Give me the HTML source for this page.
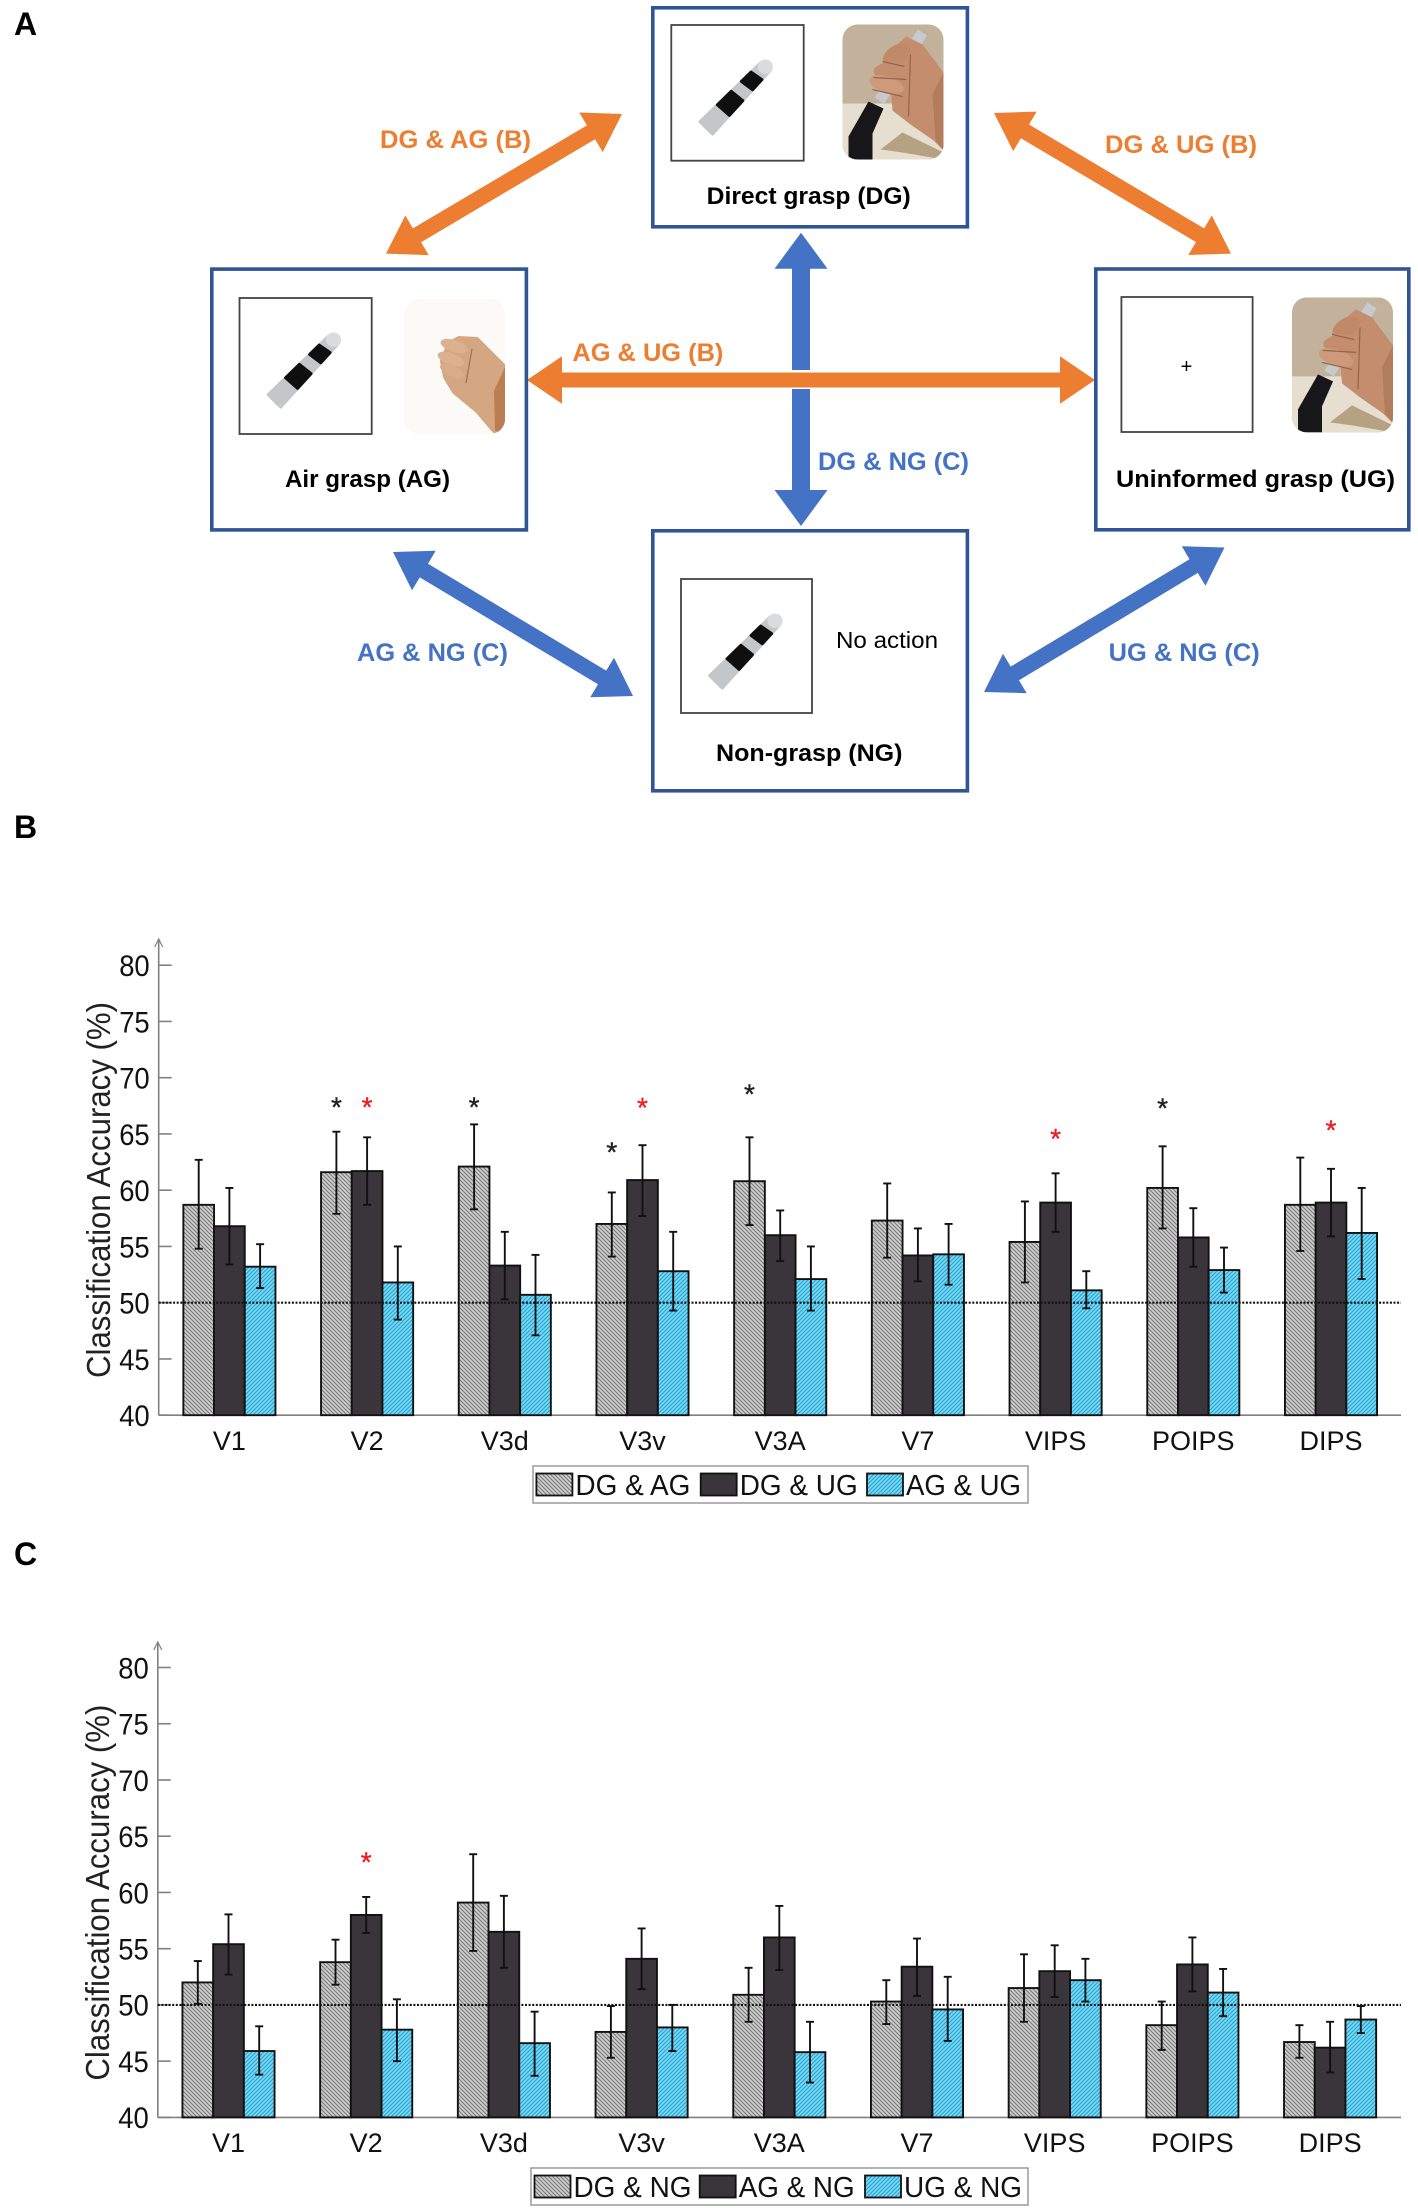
<!DOCTYPE html>
<html lang="en">
<head>
<meta charset="utf-8">
<title>Classification accuracy figure</title>
<style>
html,body{margin:0;padding:0;background:#fff;}
svg{display:block;}
text{font-family:"Liberation Sans",Arial,sans-serif;}
</style>
</head>
<body>
<svg id="figure" xmlns="http://www.w3.org/2000/svg" width="1418" height="2212" viewBox="0 0 1418 2212">
<defs>
  <pattern id="hatch-gray" patternUnits="userSpaceOnUse" width="4" height="4">
    <rect width="4" height="4" fill="#d2d2d2"/>
    <path d="M-1,-1 L5,5 M-1,3 L1,5 M3,-1 L5,1" stroke="#7e7e7e" stroke-width="1.2"/>
  </pattern>
  <pattern id="hatch-cyan" patternUnits="userSpaceOnUse" width="4" height="4">
    <rect width="4" height="4" fill="#7ddaf6"/>
    <path d="M-1,5 L5,-1 M-1,1 L1,-1 M3,5 L5,3" stroke="#2ba6d2" stroke-width="1.2"/>
  </pattern>
  <g id="grip-tube">
    <polygon points="28.7,96.7 88.7,38.3 99.3,45 41.3,109 36,104" fill="#c3c7c9" stroke="#c3c7c9" stroke-width="3" stroke-linejoin="round"/>
    <ellipse cx="94" cy="41.7" rx="7.6" ry="7.2" fill="#d9dcdd"/>
    <polygon points="46.1,79.8 59.9,66.3 71.5,75.7 58.1,90.4" fill="#0f0f10" stroke="#0f0f10" stroke-width="3" stroke-linejoin="round"/>
    <polygon points="70.1,56.4 79.7,47.1 90.6,54.6 81.3,64.8" fill="#0f0f10" stroke="#0f0f10" stroke-width="3" stroke-linejoin="round"/>
  </g>
  <clipPath id="photo-clip"><rect x="0" y="0" width="101" height="135" rx="15" ry="15"/></clipPath>
  <g id="grasp-photo" clip-path="url(#photo-clip)">
    <rect width="101" height="135" fill="#c2b29c"/>
    <rect y="79" width="101" height="56" fill="#e6dece"/>
    <path d="M38,125 L60,108 L101,128 L101,135 L60,128 Z" fill="#b5a283"/>
    <line x1="80" y1="8" x2="37" y2="76" stroke="#c6cacc" stroke-width="11"/>
    <path d="M26,77 L41,84 L30,109 L30,135 L6,135 L6,112 Z" fill="#17171a"/>
    <path d="M52,22 L64,12 L80,20 L101,48 L101,126 L91,116 L68,100 L50,86 L48,62 L44,36 Z" fill="#c48e6e"/>
    <ellipse cx="54" cy="30" rx="15" ry="9" transform="rotate(-32 54 30)" fill="#c08a68"/>
    <ellipse cx="48" cy="45" rx="17" ry="8" transform="rotate(-8 48 45)" fill="#c48e6e"/>
    <ellipse cx="44" cy="60" rx="18" ry="8" transform="rotate(18 44 60)" fill="#cd9a7c"/>
    <path d="M40,37 L62,42 M31,53 L64,55 M30,65 L60,72 M68,30 L66,92" stroke="#96624a" stroke-width="1.2" fill="none"/>
    <path d="M90,70 L101,48 L101,126 L93,116 Z" fill="#b27d5c"/>
  </g>
  <g id="air-photo" clip-path="url(#photo-clip)">
    <rect width="101" height="135" fill="#fbfaf7"/>
    <path d="M38,62 L45,44 L55,39 L73,40 L92,59 L101,68 L101,134 L90,132 L73,112 L50,93 L41,78 Z" fill="#d4a682" stroke="#d4a682" stroke-width="4" stroke-linejoin="round"/>
    <ellipse cx="50" cy="47" rx="14" ry="6" transform="rotate(18 50 47)" fill="#dcb190"/>
    <ellipse cx="47" cy="60" rx="14" ry="6" transform="rotate(20 47 60)" fill="#dcb190"/>
    <ellipse cx="48" cy="72" rx="13" ry="5.5" transform="rotate(25 48 72)" fill="#d9ac8c"/>
    <path d="M68,50 L62,84" stroke="#a17453" stroke-width="1.3" fill="none"/>
    <path d="M90,92 L101,68 L101,134 L91,132 Z" fill="#b97f52"/>
  </g>
</defs>
<rect width="1418" height="2212" fill="#fff"/>

<g id="panel-a">
  <text x="14" y="35" font-size="32" font-weight="bold">A</text>

  <g id="arrow-layer"></g>

  <g>
    <rect x="652.8" y="7.8" width="314.6" height="219" fill="#fff" stroke="#2f5597" stroke-width="3.6"/>
    <rect x="671.3" y="25" width="132.4" height="135.7" fill="#fff" stroke="#444" stroke-width="1.8"/>
    <use href="#grip-tube" transform="translate(671.3,25)"/>
    <use href="#grasp-photo" transform="translate(842.5,24.5)"/>
    <text x="706.7" y="204" font-size="24" font-weight="bold" textLength="204" lengthAdjust="spacingAndGlyphs">Direct grasp (DG)</text>
  </g>

  <g>
    <rect x="211.8" y="269.1" width="314.6" height="260.8" fill="#fff" stroke="#2f5597" stroke-width="3.6"/>
    <rect x="239.5" y="298" width="132.2" height="136" fill="#fff" stroke="#444" stroke-width="1.8"/>
    <use href="#grip-tube" transform="translate(239.5,298)"/>
    <use href="#air-photo" transform="translate(404,299)"/>
    <text x="285" y="487" font-size="24" font-weight="bold" textLength="165" lengthAdjust="spacingAndGlyphs">Air grasp (AG)</text>
  </g>

  <g>
    <rect x="1095.8" y="269" width="313" height="260.8" fill="#fff" stroke="#2f5597" stroke-width="3.6"/>
    <rect x="1121.4" y="297" width="131.2" height="135" fill="#fff" stroke="#444" stroke-width="1.8"/>
    <text x="1186.5" y="373" font-size="20" text-anchor="middle">+</text>
    <use href="#grasp-photo" transform="translate(1292,297.4)"/>
    <text x="1116" y="487" font-size="24" font-weight="bold" textLength="279" lengthAdjust="spacingAndGlyphs">Uninformed grasp (UG)</text>
  </g>

  <g>
    <rect x="652.8" y="530.8" width="314.6" height="260" fill="#fff" stroke="#2f5597" stroke-width="3.6"/>
    <rect x="681" y="579" width="131" height="134" fill="#fff" stroke="#444" stroke-width="1.8"/>
    <use href="#grip-tube" transform="translate(681,579)"/>
    <text x="836" y="648" font-size="23" textLength="102" lengthAdjust="spacingAndGlyphs">No action</text>
    <text x="716" y="761" font-size="24" font-weight="bold" textLength="186.5" lengthAdjust="spacingAndGlyphs">Non-grasp (NG)</text>
  </g>

  <text x="380" y="148" font-size="25" font-weight="bold" fill="#ed7d31" textLength="151" lengthAdjust="spacingAndGlyphs">DG &amp; AG (B)</text>
  <text x="1105" y="153" font-size="25" font-weight="bold" fill="#ed7d31" textLength="152" lengthAdjust="spacingAndGlyphs">DG &amp; UG (B)</text>
  <text x="572.4" y="361" font-size="25" font-weight="bold" fill="#ed7d31" textLength="151" lengthAdjust="spacingAndGlyphs">AG &amp; UG (B)</text>
  <text x="818" y="470" font-size="25" font-weight="bold" fill="#4472c4" textLength="151" lengthAdjust="spacingAndGlyphs">DG &amp; NG (C)</text>
  <text x="357" y="661" font-size="25" font-weight="bold" fill="#4472c4" textLength="151" lengthAdjust="spacingAndGlyphs">AG &amp; NG (C)</text>
  <text x="1108.7" y="661" font-size="25" font-weight="bold" fill="#4472c4" textLength="151" lengthAdjust="spacingAndGlyphs">UG &amp; NG (C)</text>
</g>

<text x="14" y="838" font-size="32" font-weight="bold">B</text>
<g id="chart-b"></g>
<text x="14" y="1565" font-size="32" font-weight="bold">C</text>
<g id="chart-c"></g>
</svg>

<script>
// ---- shared axis data ----
const categories = ["V1","V2","V3d","V3v","V3A","V7","VIPS","POIPS","DIPS"];
const yTicks = [40,45,50,55,60,65,70,75,80];
const chanceLevel = 50;

// ---- chart B values ----
const bLegend = ["DG & AG","DG & UG","AG & UG"];
const bDgAg = [58.7,61.6,62.1,57.0,60.8,57.3,55.4,60.2,58.7];
const bDgUg = [56.8,61.7,53.3,60.9,56.0,54.2,58.9,55.8,58.9];
const bAgUg = [53.2,51.8,50.7,52.8,52.1,54.3,51.1,52.9,56.2];
const bDgAgHi = [62.7,65.2,65.85,59.8,64.7,60.6,59.0,63.9,62.9];
const bDgAgLo = [54.8,57.9,58.3,54.1,56.9,54.0,51.8,56.6,54.6];
const bDgUgHi = [60.2,64.7,56.3,64.0,58.2,56.6,61.5,58.4,61.9];
const bDgUgLo = [53.4,58.7,50.3,57.7,53.7,51.9,56.3,53.2,55.9];
const bAgUgHi = [55.2,55.0,54.25,56.3,55.0,57.0,52.8,54.9,60.2];
const bAgUgLo = [51.3,48.5,47.1,49.3,49.3,51.6,49.5,50.9,52.1];
const bStarGroup = [1,1,2,3,3,4,6,7,8];
const bStarSeries = [0,1,0,0,1,0,1,0,1];
const bStarValue = [67.8,67.8,67.8,63.8,67.75,68.95,65.0,67.7,65.75];
const bStarColor = ["black","red","black","black","red","black","red","black","red"];

// ---- chart C values ----
const cLegend = ["DG & NG","AG & NG","UG & NG"];
const cDgNg = [52.0,53.8,59.1,47.6,50.9,50.3,51.5,48.2,46.7];
const cAgNg = [55.4,58.0,56.5,54.1,56.0,53.4,53.0,53.6,46.2];
const cUgNg = [45.9,47.8,46.6,48.0,45.8,49.6,52.2,51.1,48.7];
const cDgNgHi = [53.9,55.8,63.4,49.9,53.3,52.2,54.5,50.3,48.2];
const cDgNgLo = [50.1,51.8,54.8,45.3,48.5,48.3,48.5,46.0,45.3];
const cAgNgHi = [58.05,59.6,59.7,56.8,58.8,55.9,55.3,56.0,48.5];
const cAgNgLo = [52.7,56.4,53.3,51.4,53.1,50.8,50.7,51.2,44.0];
const cUgNgHi = [48.1,50.5,49.4,50.0,48.5,52.5,54.1,53.2,49.9];
const cUgNgLo = [43.8,45.0,43.7,45.9,43.1,46.8,50.3,49.0,47.5];
const cStarGroup = [1];
const cStarSeries = [1];
const cStarValue = [63.1];
const cStarColor = ["red"];

const NS = "http://www.w3.org/2000/svg";
function mk(parent, tag, attrs, name, text) {
  const el = document.createElementNS(NS, tag);
  for (const k in attrs) el.setAttribute(k, attrs[k]);
  
  
  if (text !== undefined) el.textContent = text;
  parent.appendChild(el);
  return el;
}

// ---- panel A arrows ----
function doubleArrow(parent, x1, y1, x2, y2, shaft, headW, headL, fill, name) {
  const dx = x2 - x1, dy = y2 - y1, len = Math.hypot(dx, dy);
  const ux = dx / len, uy = dy / len, nx = -uy, ny = ux;
  const P = (d, o) => (x1 + ux * d + nx * o).toFixed(1) + "," + (y1 + uy * d + ny * o).toFixed(1);
  const pts = [
    P(0, 0), P(headL, headW / 2), P(headL, shaft / 2),
    P(len - headL, shaft / 2), P(len - headL, headW / 2), P(len, 0),
    P(len - headL, -headW / 2), P(len - headL, -shaft / 2),
    P(headL, -shaft / 2), P(headL, -headW / 2)
  ].join(" ");
  mk(parent, "polygon", {points: pts, fill: fill}, name);
}
const arrowLayer = document.getElementById("arrow-layer");
doubleArrow(arrowLayer, 622, 114, 386, 253.6, 16, 46, 36, "#ed7d31", "dg-ag-arrow");
doubleArrow(arrowLayer, 994, 113, 1231, 253.6, 16, 46, 36, "#ed7d31", "dg-ug-arrow");
doubleArrow(arrowLayer, 393, 552, 633, 696, 16, 46, 36, "#4472c4", "ag-ng-arrow");
doubleArrow(arrowLayer, 1224.5, 547.5, 984, 692, 16, 46, 36, "#4472c4", "ug-ng-arrow");
doubleArrow(arrowLayer, 801, 232.7, 801, 526, 18, 53, 36, "#4472c4", "dg-ng-arrow");
mk(arrowLayer, "rect", {x: 788, y: 370, width: 26, height: 19, fill: "#fff"}, "arrow-crossing-gap");
doubleArrow(arrowLayer, 527, 380, 1095, 380, 15, 47.5, 35, "#ed7d31", "ag-ug-arrow");

// ---- bar chart drawing ----
function drawChart(cfg) {
  const g = document.getElementById(cfg.id);
  const yScale = v => cfg.y40 + (v - 40) * (cfg.y80 - cfg.y40) / 40;
  const groupX = i => cfg.x0 + cfg.step * i;
  const barX = (i, j) => groupX(i) + (j - 1) * cfg.barW;
  const axisColor = "#808080";
  const fills = ["url(#hatch-gray)", "#3a343b", "url(#hatch-cyan)"];
  const seriesNames = ["series-1", "series-2", "series-3"];

  // axes
  mk(g, "line", {x1: cfg.axisX, y1: yScale(40), x2: cfg.axisEnd, y2: yScale(40), stroke: axisColor, "stroke-width": 1.6}, "x-axis-line");
  mk(g, "line", {x1: cfg.axisX, y1: yScale(40), x2: cfg.axisX, y2: cfg.arrowTop, stroke: axisColor, "stroke-width": 1.6}, "y-axis-line");
  mk(g, "path", {d: `M${cfg.axisX - 4},${cfg.arrowTop + 8} L${cfg.axisX},${cfg.arrowTop} L${cfg.axisX + 4},${cfg.arrowTop + 8}`, fill: "none", stroke: axisColor, "stroke-width": 1.2}, "y-axis-arrowhead");

  yTicks.forEach(t => {
    mk(g, "line", {x1: cfg.axisX, y1: yScale(t), x2: cfg.axisX + 13, y2: yScale(t), stroke: axisColor, "stroke-width": 1.6}, "y-tick-" + t);
    mk(g, "text", {x: cfg.axisX - 39.5, y: yScale(t) + 10.8, "font-size": 30, textLength: 30.5, lengthAdjust: "spacingAndGlyphs", fill: "#111"}, "y-tick-label-" + t, String(t));
  });

  mk(g, "text", {transform: `translate(${cfg.labelX},${cfg.labelY}) rotate(-90)`, "font-size": 33, "text-anchor": "middle", textLength: 376, lengthAdjust: "spacingAndGlyphs", fill: "#222"}, "y-axis-title", "Classification Accuracy (%)");

  // bars
  categories.forEach((cat, i) => {
    cfg.series.forEach((vals, j) => {
      const y = yScale(vals[i]);
      mk(g, "rect", {x: barX(i, j) - cfg.barW / 2, y: y, width: cfg.barW, height: yScale(40) - y, fill: fills[j], stroke: "#111", "stroke-width": 1.9}, "bar-" + cat + "-" + seriesNames[j]);
    });
    mk(g, "text", {x: groupX(i), y: cfg.xLabelY, "font-size": 27, "text-anchor": "middle", fill: "#111"}, "x-tick-label-" + cat, cat);
  });

  // chance line
  mk(g, "line", {x1: cfg.axisX, y1: yScale(chanceLevel), x2: cfg.axisEnd, y2: yScale(chanceLevel), stroke: "#111", "stroke-width": 2.2, "stroke-dasharray": "2 1.6"}, "chance-level-line");

  // error bars
  categories.forEach((cat, i) => {
    cfg.series.forEach((vals, j) => {
      const x = barX(i, j), hi = yScale(cfg.upper[j][i]), lo = yScale(cfg.lower[j][i]);
      mk(g, "line", {x1: x, y1: hi, x2: x, y2: lo, stroke: "#111", "stroke-width": 1.9}, "error-bar-" + cat + "-" + seriesNames[j]);
      mk(g, "line", {x1: x - 4, y1: hi, x2: x + 4, y2: hi, stroke: "#111", "stroke-width": 1.9}, "error-cap-high-" + cat + "-" + seriesNames[j]);
      mk(g, "line", {x1: x - 4, y1: lo, x2: x + 4, y2: lo, stroke: "#111", "stroke-width": 1.9}, "error-cap-low-" + cat + "-" + seriesNames[j]);
    });
  });

  // significance stars
  cfg.starGroup.forEach((grp, k) => {
    const starFill = cfg.starColor[k] === "red" ? "#ee1c25" : "#222";
    mk(g, "text", {x: barX(grp, cfg.starSeries[k]), y: yScale(cfg.starValue[k]) + 14, "font-size": 28, "text-anchor": "middle", fill: starFill, stroke: starFill, "stroke-width": 0.4}, "significance-star-" + categories[grp], "*");
  });

  // legend
  const lg = mk(g, "g", {}, "legend");
  mk(lg, "rect", {x: cfg.legX, y: cfg.legY, width: cfg.legW, height: cfg.legH, fill: "#fff", stroke: "#9a9a9a", "stroke-width": 1.5}, "legend-box");
  cfg.legend.forEach((label, j) => {
    mk(lg, "rect", {x: cfg.swatchX[j], y: cfg.legY + 7.5, width: 36, height: 22, fill: fills[j], stroke: "#111", "stroke-width": 1.8}, "legend-swatch-" + seriesNames[j]);
    mk(lg, "text", {x: cfg.swatchX[j] + 39, y: cfg.legY + 29, "font-size": 29, textLength: cfg.legendWidths[j], lengthAdjust: "spacingAndGlyphs", fill: "#111"}, "legend-entry-" + seriesNames[j], label);
  });
}

drawChart({
  id: "chart-b", y40: 1415.2, y80: 965.2, axisX: 158.7, axisEnd: 1401, arrowTop: 939,
  x0: 229.4, step: 137.7, barW: 30.7, labelX: 110, labelY: 1190, xLabelY: 1450,
  series: [bDgAg, bDgUg, bAgUg],
  upper: [bDgAgHi, bDgUgHi, bAgUgHi],
  lower: [bDgAgLo, bDgUgLo, bAgUgLo],
  starGroup: bStarGroup, starSeries: bStarSeries, starValue: bStarValue, starColor: bStarColor,
  legend: bLegend, legendWidths: [115, 118, 115], legX: 533, legY: 1466, legW: 495, legH: 37, swatchX: [536.4, 700.7, 867]
});
drawChart({
  id: "chart-c", y40: 2117.4, y80: 1667.5, axisX: 157.8, axisEnd: 1401, arrowTop: 1642,
  x0: 228.5, step: 137.7, barW: 30.7, labelX: 109, labelY: 1892.6, xLabelY: 2152,
  series: [cDgNg, cAgNg, cUgNg],
  upper: [cDgNgHi, cAgNgHi, cUgNgHi],
  lower: [cDgNgLo, cAgNgLo, cUgNgLo],
  starGroup: cStarGroup, starSeries: cStarSeries, starValue: cStarValue, starColor: cStarColor,
  legend: cLegend, legendWidths: [118, 116, 118], legX: 531, legY: 2168, legW: 497, legH: 37, swatchX: [534.5, 699.7, 865]
});
</script>
</body>
</html>
